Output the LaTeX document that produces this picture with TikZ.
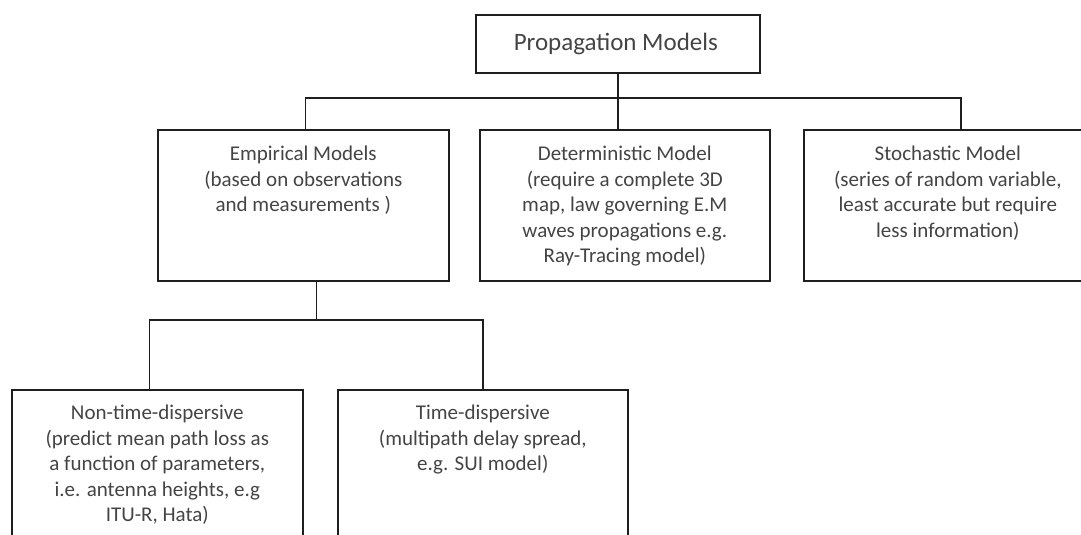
\documentclass[tikz,border=0pt]{standalone}
\usepackage{fontspec}
\setmainfont{Carlito}
\usetikzlibrary{calc}
\definecolor{txtgray}{HTML}{444444}
\definecolor{linegray}{HTML}{1E1E1E}
\tikzset{
  box/.style={draw=linegray, line width=1.6pt, rectangle, inner sep=0pt, anchor=north west},
  lbl/.style={text=txtgray, align=center, anchor=north, font=\fontsize{21}{25.5}\selectfont, inner sep=0pt},
  conn/.style={draw=linegray, line width=1.5pt}
}
\begin{document}
\begin{tikzpicture}[x=1pt,y=-1pt]
\useasboundingbox (0,0) rectangle (1081,535);
\clip (0,0) rectangle (1081,535);
% boxes
\node[box, minimum width=284pt, minimum height=58pt] (top) at (475,14) {};
\node[text=txtgray, font=\fontsize{25}{30}\selectfont, inner sep=0pt] (toplbl) at ($(top.center)+(-2,0)$) {Propagation Models};
\node[box, minimum width=291pt, minimum height=151pt] (emp) at (157,129) {};
\node[box, minimum width=290pt, minimum height=151pt] (det) at (479,129) {};
\node[box, minimum width=314pt, minimum height=151pt] (sto) at (803,129) {};
\node[box, minimum width=291pt, minimum height=180pt] (non) at (11,389) {};
\node[box, minimum width=290pt, minimum height=180pt] (tim) at (337,389) {};
% labels
\node[lbl] (emplbl) at ($(emp.north)+(0,17)$) {Empirical Models\\(based on observations\\and measurements )};
\node[lbl] (detlbl) at ($(det.north)+(0,17)$) {Deterministic Model\\(require a complete 3D\\map, law governing E.M\\waves propagations e.g.\\Ray-Tracing model)};
\node[lbl] (stolbl) at ($(sto.north)+(-13,17)$) {Stochastic Model\\(series of random variable,\\least accurate but require\\less information)};
\node[lbl] (nonlbl) at ($(non.north)+(0,16)$) {Non-time-dispersive\\(predict mean path loss as\\a function of parameters,\\i.e. antenna heights, e.g\\ITU-R, Hata)};
\node[lbl] (timlbl) at ($(tim.north)+(0,16)$) {Time-dispersive\\(multipath delay spread,\\e.g. SUI model)};
% connectors
\coordinate (bar) at (0,98);
\draw[conn] (top.south) -- (top.south |- det.north);
\draw[conn] ($(emp.north)+(2,0)$) |- (bar -| sto.north) -- (sto.north);
\coordinate (empout) at ($(emp.south)+(13,0)$);
\coordinate (low) at (0,320);
\draw[conn, line width=1.2pt] (empout) -- (empout |- low);
\draw[conn] ($(non.north)+(-8,0)$) |- (low -| tim.north) -- (tim.north);
\end{tikzpicture}
\end{document}
